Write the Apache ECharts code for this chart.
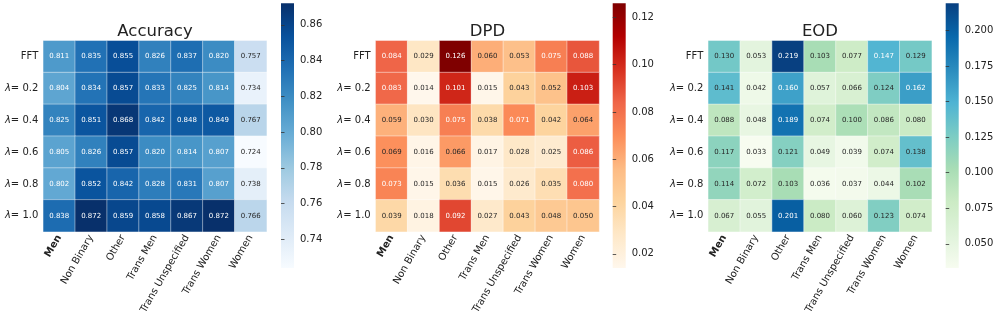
<!DOCTYPE html>
<html>
<head>
<meta charset="utf-8">
<script src="https://cdn.jsdelivr.net/npm/echarts@6/dist/echarts.min.js"></script>
<style>
  html, body { margin: 0; padding: 0; background: #fff; }
  #chart { width: 997px; height: 324px; }
</style>
</head>
<body>
<div id="chart"></div>
<script>
    var groups = ['Men', 'Non Binary', 'Other', 'Trans Men', 'Trans Unspecified', 'Trans Women', 'Women'];
    var settings = ['FFT', 'λ= 0.2', 'λ= 0.4', 'λ= 0.6', 'λ= 0.8', 'λ= 1.0'];

    var accuracy = [
        [0.811, 0.835, 0.855, 0.826, 0.837, 0.820, 0.757],
        [0.804, 0.834, 0.857, 0.833, 0.825, 0.814, 0.734],
        [0.825, 0.851, 0.868, 0.842, 0.848, 0.849, 0.767],
        [0.805, 0.826, 0.857, 0.820, 0.814, 0.807, 0.724],
        [0.802, 0.852, 0.842, 0.828, 0.831, 0.807, 0.738],
        [0.838, 0.872, 0.859, 0.858, 0.867, 0.872, 0.766]
    ];
    var dpd = [
        [0.084, 0.029, 0.126, 0.060, 0.053, 0.075, 0.088],
        [0.083, 0.014, 0.101, 0.015, 0.043, 0.052, 0.103],
        [0.059, 0.030, 0.075, 0.038, 0.071, 0.042, 0.064],
        [0.069, 0.016, 0.066, 0.017, 0.028, 0.025, 0.086],
        [0.073, 0.015, 0.036, 0.015, 0.026, 0.035, 0.080],
        [0.039, 0.018, 0.092, 0.027, 0.043, 0.048, 0.050]
    ];
    var eod = [
        [0.130, 0.053, 0.219, 0.103, 0.077, 0.147, 0.129],
        [0.141, 0.042, 0.160, 0.057, 0.066, 0.124, 0.162],
        [0.088, 0.048, 0.189, 0.074, 0.100, 0.086, 0.080],
        [0.117, 0.033, 0.121, 0.049, 0.039, 0.074, 0.138],
        [0.114, 0.072, 0.103, 0.036, 0.037, 0.044, 0.102],
        [0.067, 0.055, 0.201, 0.080, 0.060, 0.123, 0.074]
    ];

    var accTicks = [0.74, 0.76, 0.78, 0.80, 0.82, 0.84, 0.86];
    var dpdTicks = [0.02, 0.04, 0.06, 0.08, 0.10, 0.12];
    var eodTicks = [0.05, 0.075, 0.1, 0.125, 0.15, 0.175, 0.2];

    // matplotlib colormaps (colorbrewer stops)
    var blues = ['#f7fbff', '#deebf7', '#c6dbef', '#9ecae1', '#6baed6', '#4292c6', '#2171b5', '#08519c', '#08306b'];
    var orrd = ['#fff7ec', '#fee8c8', '#fdd49e', '#fdbb84', '#fc8d59', '#ef6548', '#d7301f', '#b30000', '#7f0000'];
    var gnbu = ['#f7fcf0', '#e0f3db', '#ccebc5', '#a8ddb5', '#7bccc4', '#4eb3d3', '#2b8cbe', '#0868ac', '#084081'];

    var FONT = 'DejaVu Sans';

    function hexRgb(h) {
        return [parseInt(h.slice(1, 3), 16), parseInt(h.slice(3, 5), 16), parseInt(h.slice(5, 7), 16)];
    }
    function cmap(stops, t) {
        t = Math.max(0, Math.min(1, t)) * (stops.length - 1);
        var i = Math.min(Math.floor(t), stops.length - 2), f = t - i;
        var a = hexRgb(stops[i]), b = hexRgb(stops[i + 1]);
        return [0, 1, 2].map(function (k) { return (a[k] + (b[k] - a[k]) * f) / 255; });
    }
    function luminance(rgb) {
        var c = rgb.map(function (v) { return v <= 0.03928 ? v / 12.92 : Math.pow((v + 0.055) / 1.055, 2.4); });
        return 0.2126 * c[0] + 0.7152 * c[1] + 0.0722 * c[2];
    }

    function flat(m) { return [].concat.apply([], m); }

    function cells(m, stops, lo, hi) {
        var out = [];
        m.forEach(function (row, r) {
            row.forEach(function (v, c) {
                var lum = luminance(cmap(stops, (v - lo) / (hi - lo)));
                out.push({ value: [c, r, v], label: { color: lum > 0.408 ? '#262626' : '#ffffff' } });
            });
        });
        return out;
    }

    var panels = [
        { name: 'Accuracy', m: accuracy, stops: blues, ticks: accTicks, dec: 2, gl: 43.3, cb: 281, tx: 155 },
        { name: 'DPD', m: dpd, stops: orrd, ticks: dpdTicks, dec: 2, gl: 375.7, cb: 612.7, tx: 487.5 },
        { name: 'EOD', m: eod, stops: gnbu, ticks: eodTicks, dec: 3, gl: 708.3, cb: 945.7, tx: 820 }
    ];

    var option = {
        animation: false,
        textStyle: { fontFamily: FONT },
        title: [], grid: [], xAxis: [], yAxis: [], visualMap: [], series: [], graphic: []
    };

    panels.forEach(function (p, i) {
        var vals = flat(p.m);
        var lo = Math.min.apply(null, vals), hi = Math.max.apply(null, vals);

        option.title.push({
            text: p.name, left: p.tx, top: 23, textAlign: 'center', padding: 0,
            textStyle: { fontFamily: FONT, fontSize: 16.5, fontWeight: 'normal', color: '#222' }
        });

        // heatmap grid
        option.grid.push({ left: p.gl, top: 40.7, width: 223.4, height: 191 });
        option.xAxis.push({
            type: 'category', gridIndex: 2 * i, data: groups,
            axisLine: { show: false }, axisTick: { show: false }, splitArea: { show: false },
            axisLabel: {
                interval: 0, rotate: 60, margin: 4, fontSize: 10, color: '#222', fontFamily: FONT,
                formatter: function (v) { return v === 'Men' ? '{b|Men}' : v; },
                rich: { b: { fontWeight: 'bold', fontSize: 10, color: '#222', fontFamily: FONT } }
            }
        });
        option.yAxis.push({
            type: 'category', gridIndex: 2 * i, data: settings, inverse: true,
            axisLine: { show: false }, axisTick: { show: false }, splitArea: { show: false },
            axisLabel: {
                margin: 5, fontSize: 10, color: '#222', fontFamily: FONT,
                formatter: function (v) { return v.charAt(0) === 'λ' ? '{i|λ}' + v.slice(1) : v; },
                rich: { i: { fontStyle: 'italic', fontSize: 10, color: '#222', fontFamily: FONT } }
            }
        });

        // colorbar axis grid
        option.grid.push({ left: p.cb, top: 3.3, width: 13, height: 264.7 });
        option.xAxis.push({ type: 'value', gridIndex: 2 * i + 1, show: false, min: 0, max: 1 });
        option.yAxis.push({
            type: 'value', gridIndex: 2 * i + 1, position: 'right', min: lo, max: hi,
            splitLine: { show: false }, axisLine: { show: false },
            axisTick: { show: true, length: 3.5, lineStyle: { color: '#333', width: 0.8 }, customValues: p.ticks },
            axisLabel: {
                margin: 6, fontSize: 10, color: '#222', fontFamily: FONT, customValues: p.ticks,
                formatter: function (v) { return v.toFixed(p.dec); }
            }
        });

        // colour mapping for the cells
        option.visualMap.push({
            type: 'continuous', seriesIndex: i, min: lo, max: hi, show: false,
            inRange: { color: p.stops }
        });

        // colorbar gradient (square ends like matplotlib)
        var n = p.stops.length;
        option.graphic.push({
            type: 'rect', left: p.cb, top: 3.3, silent: true,
            shape: { width: 13, height: 264.7 },
            style: {
                fill: new echarts.graphic.LinearGradient(0, 0, 0, 1, p.stops.slice().reverse().map(function (c, k) {
                    return { offset: k / (n - 1), color: c };
                }))
            }
        });

        option.series.push({
            type: 'heatmap', xAxisIndex: 2 * i, yAxisIndex: 2 * i,
            data: cells(p.m, p.stops, lo, hi),
            itemStyle: { borderColor: 'rgba(255,255,255,0.55)', borderWidth: 0.8 },
            label: {
                show: true, fontSize: 7, fontFamily: FONT,
                formatter: function (q) { return q.value[2].toFixed(3); }
            },
            emphasis: { disabled: true }
        });
    });

    var chart = echarts.init(document.getElementById('chart'));
    chart.setOption(option);
</script>
</body>
</html>
